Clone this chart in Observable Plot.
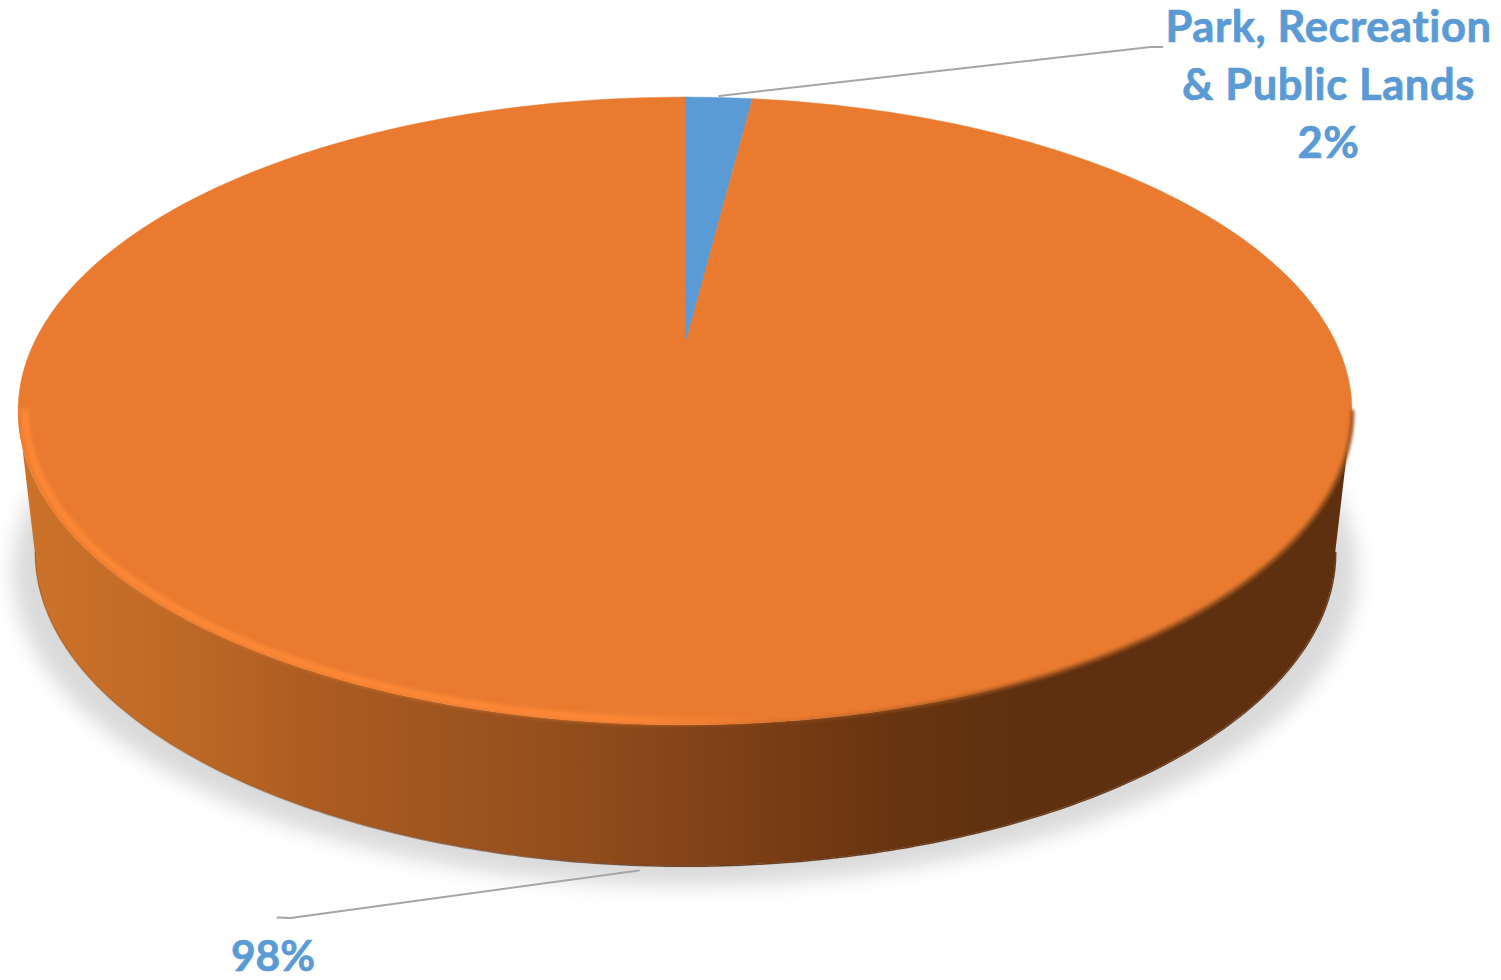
<!DOCTYPE html>
<html>
<head>
<meta charset="utf-8">
<script src="https://cdn.jsdelivr.net/npm/d3@7"></script>
<script src="https://cdn.jsdelivr.net/npm/@observablehq/plot@0.6"></script>
<style>
html,body{margin:0;padding:0;background:#fff}
svg{display:block;max-width:none}
text{font-variant-ligatures:none;font-feature-settings:"liga" 0}
.wide text{letter-spacing:0.6px}
</style>
</head>
<body>
<div id="chart"></div>
<script>
// ---- data ----
const categories = ["Park, Recreation & Public Lands", "Other"];
const values = [2, 98];
const sliceColors = ["#5b9bd5", "#e97a2f"];
const labelTexts = ["Park, Recreation\n& Public Lands\n2%", "98%"];

// ---- perspective of the disc (unit circle to picture plane) ----
const tilt = 0.2102, thickness = 0.47, baseShrink = 0.975;
const midY = -tilt / (1 - tilt * tilt);
const rim = a => {
  const u = Math.sin(a), v = Math.cos(a), w = 1 + tilt * v;
  return {x: u / w, y: v / w};
};
const base = a => {
  const p = rim(a);
  return {x: p.x * baseShrink, y: p.y - thickness};
};
const sweep = (a0, a1, n = 240) => d3.range(n + 1).map(i => a0 + (a1 - a0) * i / n);

const slices = d3.pie().sort(null)(values);
const sectors = slices.map(s => sweep(s.startAngle, s.endAngle).map(rim));

// front side of the disc, between its two widest points
const widest = Math.acos(-tilt);
const sideAngles = sweep(widest, 2 * Math.PI - widest);
const side = sideAngles.map(a => {
  const t = rim(a), b = base(a);
  return {x1: t.x, y1: t.y, x2: b.x, y2: b.y};
});
const lowerEdge = sideAngles.map(base);

// soft shadow under the disc
const shadow = sweep(0, 2 * Math.PI).map(a => {
  const p = rim(a);
  return {x: p.x * 1.0075, y: p.y - 0.535, x0: 0, y0: midY - 0.535};
});

// bevel along the front edge of the top face
const inset = a => {
  const p = rim(a);
  return {x: p.x * 0.99, y: midY + (p.y - midY) * 0.985};
};
const bevel = sweep(widest + 0.0, 2 * Math.PI - widest).map(inset);
const rightEdge = sweep(widest, Math.PI).map(rim);

// leader lines start at the middle of each slice
const mid = s => (s.startAngle + s.endAngle) / 2;
const leadTop = rim(mid(slices[0]));
const leadBot = base(mid(slices[1]));
const unitX = px => (px - 685) / 652;
const unitY = px => (345 - px) / 300;
const leaders = [
  [{x: leadTop.x, y: leadTop.y + 0.007}, {x: unitX(1150), y: unitY(46.5)}, {x: unitX(1162), y: unitY(46.5)}],
  [{x: leadBot.x + 0.006, y: leadBot.y - 0.017}, {x: unitX(290), y: unitY(917.5)}, {x: unitX(277), y: unitY(917)}]
];

const defs = () => {
  const d = d3.create("svg:defs");
  const stops = (id, x1, x2, list) => {
    const g = d.append("linearGradient").attr("id", id).attr("gradientUnits", "userSpaceOnUse")
      .attr("x1", x1).attr("x2", x2).attr("y1", 0).attr("y2", 0);
    list.forEach(([o, c, a]) => g.append("stop").attr("offset", o).attr("stop-color", c).attr("stop-opacity", a ?? 1));
  };
  stops("sideFill", 30, 1030, [
    [0, "#cb722a"], [0.12, "#c26b27"], [0.3, "#ab5b21"], [0.52, "#944f1d"],
    [0.7, "#7f4017"], [0.85, "#693510"], [1, "#5e300f"]
  ]);
  stops("bevelStroke", 18, 780, [
    [0, "#ff8a38"], [0.78, "#ff8a38"], [1, "#ff8a38", 0]
  ]);
  stops("softEdge", 690, 1050, [
    [0, "#a4561f", 0], [1, "#a4561f", 1]
  ]);
  stops("edgeStroke", 200, 700, [
    [0, "#6b3410", 0.25], [1, "#5e2e0e", 0.9]
  ]);
  return d.node();
};

const plot = Plot.plot({
  width: 1501,
  height: 980,
  margin: 0,
  style: {background: "#fff"},
  x: {axis: null, domain: [-1, 1], range: [33, 1337]},
  y: {axis: null, domain: [-1, 1], range: [645, 45]},
  marks: [
    defs,
    Plot.area(shadow, {x1: "x", y1: "y", x2: "x0", y2: "y0", fill: "#dadada", imageFilter: "blur(10px)"}),
    Plot.area(side, {x1: "x1", y1: "y1", x2: "x2", y2: "y2", fill: "url(#sideFill)"}),
    Plot.line(lowerEdge, {x: "x", y: "y", stroke: "url(#edgeStroke)", strokeWidth: 1.5, imageFilter: "blur(0.6px)"}),
    ...sectors.map((points, i) =>
      Plot.area(points, {x1: "x", y1: "y", x2: () => 0, y2: () => 0, fill: sliceColors[i], stroke: sliceColors[i], strokeWidth: 0.5})
    ),
    Plot.line(rightEdge, {x: "x", y: "y", stroke: "url(#softEdge)", strokeWidth: 4, imageFilter: "blur(1.5px)"}),
    Plot.line(bevel, {x: "x", y: "y", stroke: "url(#bevelStroke)", strokeWidth: 7, imageFilter: "blur(2.5px)"}),
    ...leaders.map(points =>
      Plot.line(points, {x: "x", y: "y", stroke: "#a6a6a6", strokeWidth: 2})
    ),
    Plot.text([labelTexts[0]], {
      text: d => d, frameAnchor: "top-left", dx: 1328, dy: 0, textAnchor: "middle", lineAnchor: "top",
      lineHeight: 1.333, fontFamily: "Lato", fontWeight: 700, fontSize: 43.5, fill: "#5b9bd5",
      stroke: "#5b9bd5", strokeWidth: 0.7, className: "wide"
    }),
    Plot.text([labelTexts[1]], {
      text: d => d, frameAnchor: "top-left", dx: 272.5, dy: 940.5, textAnchor: "middle", lineAnchor: "top",
      fontFamily: "Lato", fontWeight: 700, fontSize: 42.5, fill: "#5b9bd5",
      stroke: "#5b9bd5", strokeWidth: 0.7
    })
  ]
});
document.getElementById("chart").append(plot);
</script>
</body>
</html>
